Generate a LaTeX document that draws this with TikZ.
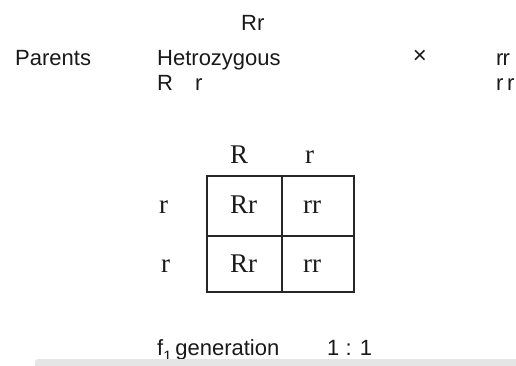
\documentclass[tikz,border=0pt]{standalone}
\usepackage{fontspec}
\setmainfont{Liberation Serif}
\setsansfont{Liberation Sans}
\begin{document}
\begin{tikzpicture}[x=1pt,y=-1pt,
  sanstxt/.style={font=\sffamily\fontsize{22}{26}\selectfont, inner sep=0pt, anchor=base west, text=black!90},
  seriftxt/.style={font=\rmfamily\fontsize{27}{31}\selectfont, inner sep=0pt, anchor=base west, text=black!90},
  gridline/.style={line width=1.4pt, draw=black!85}]
\useasboundingbox (0,0) rectangle (516,365);
% parents block
\node[sanstxt] (rrtop) at (241,30) {Rr};
\node[sanstxt] (parents) at (15,65) {Parents};
\node[sanstxt] (het) at (157,65) {Hetrozygous};
\node[sanstxt, anchor=center, font=\sffamily\fontsize{24}{26}\selectfont] (cross) at (420,57) {×};
\node[sanstxt] (rrright) at (496,65) {r\kern-1pt r};
\node[sanstxt] (gamR) at (157,90) {R\hspace{22pt}r};
\node[sanstxt] (gamr) at (496,90) {r\,r};
% punnett labels
\node[seriftxt] (colR) at (230,163) {R};
\node[seriftxt] (colr) at (305,163) {r};
\node[seriftxt] (row1) at (159,213) {r};
\node[seriftxt] (row2) at (161,272) {r};
% cells
\node[seriftxt] (c11) at (230,213) {Rr};
\node[seriftxt] (c12) at (303,213) {rr};
\node[seriftxt] (c21) at (230,272) {Rr};
\node[seriftxt] (c22) at (303,272) {rr};
% grid
\draw[gridline] (207,176) rectangle (354,292);
\draw[gridline] (282,176) -- (282,292);
\draw[gridline] (207,236) -- (354,236);
% bottom
\node[sanstxt] (f1) at (157,355) {f\raisebox{-6pt}{\fontsize{15}{17}\selectfont 1}\,generation};
\node[sanstxt] (ratio) at (327,355) {1 : 1};
\fill[black!10, rounded corners=3pt] (35,359) rectangle (530,370);
\end{tikzpicture}
\end{document}
